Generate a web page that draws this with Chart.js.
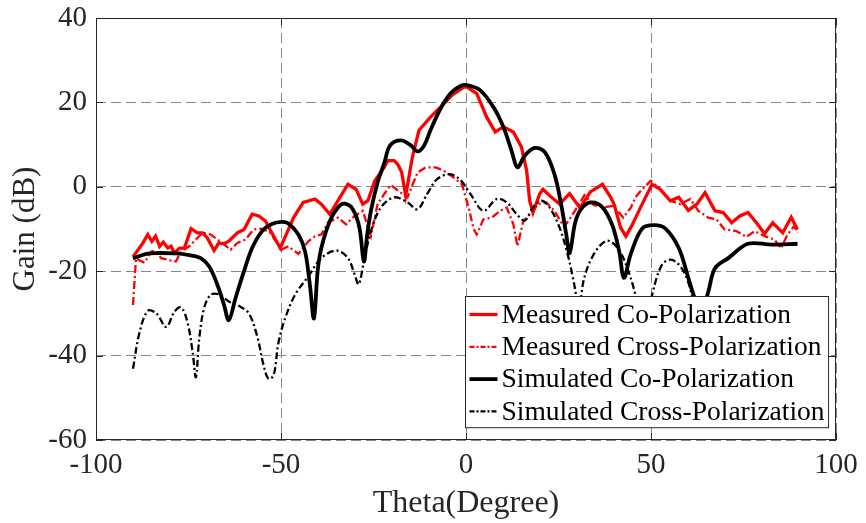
<!DOCTYPE html>
<html lang="en">
<head>
  <meta charset="UTF-8" />
  <title>Gain vs Theta</title>
  <script src="https://cdn.jsdelivr.net/npm/chart.js"></script>
  <style>
    html, body { margin: 0; padding: 0; background: #fff; }
  </style>
</head>
<body>
  <canvas id="gainChart" width="866" height="523"></canvas>

  <script>
    // values
    const measCoTheta = [-90, -87.3, -86, -84.9, -83.9, -82.8, -81.8, -80.6, -79.7, -78.8, -77.5, -76.1, -74.3, -72.6, -71.2, -69.9, -68.1, -66.8, -65.4, -64.1, -61.8, -60, -57.8, -56, -54.2, -52.5, -50.2, -48.4, -46.6, -44, -40.8, -39.1, -36.8, -34.6, -31.9, -29.7, -27.9, -26.5, -24.7, -22.1, -21.2, -19.4, -18.5, -17.4, -16.3, -14.5, -12.7, -9.6, -6.9, -3.8, -0.6, 0.2, 2.9, 5.6, 7.9, 10.1, 12.8, 15, 16.4, 17.2, 18.1, 19.9, 20.8, 23.1, 25.3, 28, 30.8, 33.6, 36.9, 39.1, 40, 41.8, 43.2, 45, 47.6, 50.3, 52.5, 55.2, 57.5, 60.1, 62.4, 64.6, 67.3, 69.5, 71.8, 74, 76.2, 78.5, 80.7, 82.9, 85.6, 87.9, 89.6];
    const measCoGain = [-16.6, -13.3, -11.3, -12.9, -11.7, -14.1, -13.1, -14.5, -14.1, -15.7, -14.6, -14.5, -9.9, -10.9, -10.9, -12.1, -15.1, -13.3, -13.5, -12.9, -10.9, -10.1, -6.5, -6.9, -8.1, -10.9, -14.5, -10.9, -7.3, -3.7, -2.9, -4.1, -6.5, -3.3, 0.6, -0.6, -4.1, -3.3, 1.4, 4.6, 6.2, 6.2, 5.4, 3.5, -2.1, 7, 13.4, 16.5, 18.9, 21.7, 23.6, 23.7, 22.1, 16.5, 13, 14.2, 13, 9.4, 3.8, -3.3, -6.1, -1.7, -0.6, -2.5, -4.1, -1.6, -5, -1.2, 0.6, -2.5, -4.1, -9.7, -11.7, -8.9, -4.1, 0.6, -0.6, -3.3, -2.5, -5.6, -4.1, -1.4, -5.7, -6.1, -8.5, -6.9, -6.1, -8.5, -11.1, -8.5, -10.9, -7.2, -10.1];

    const measXTheta = [-90, -89.2, -86.9, -85, -83.7, -82.4, -80.6, -78.4, -77, -74.8, -73, -71.2, -69, -65.9, -63.6, -61.8, -59.6, -57.4, -55.1, -52.9, -51.1, -49.9, -48, -45.3, -42.6, -40.8, -39.1, -37.3, -34.6, -32.4, -30.1, -27.9, -25.7, -23.9, -22.1, -20.3, -17.6, -15.8, -13.1, -10.9, -8.2, -6, -3.3, -1.1, 0.7, 2.1, 2.9, 4.7, 7, 9.2, 11, 12.8, 13.9, 15.5, 17.7, 19.5, 21.7, 23.9, 26.5, 28.5, 30, 32, 34.5, 37, 39.8, 42.5, 44.5, 45.8, 47.6, 49.9, 52.1, 55.2, 57.9, 60.6, 62.8, 65.5, 67.7, 69.9, 73.1, 75.8, 78, 80.7, 83.4, 85.1, 86.9, 88.7, 89.6];
    const measXGain = [-28, -17, -18, -15.3, -15.3, -16.9, -17.3, -17.7, -15.3, -14.1, -12.5, -10.9, -11.3, -13.3, -14.9, -13.3, -12.5, -10.1, -9.9, -10.9, -13.3, -14.9, -14.1, -15.9, -12.9, -11.7, -11.3, -8.5, -7.3, -8.9, -6.9, -5.7, -11.7, -4.1, -1.7, 0.4, -1.4, -2.5, 3.4, 4.6, 4.6, 3.8, 2.2, 0.6, -4.9, -10.1, -11.3, -7.7, -7.3, -5.7, -4.9, -8.9, -14.1, -8.1, -6.1, -4.1, -3.7, -5.7, -9.5, -7, -4.9, -2, -4.3, -4.9, -4.5, -7.3, -5, -2.5, -0.6, 1.4, -0.2, -3.3, -4.1, -2.9, -5.7, -7.3, -7.7, -10.1, -10.5, -11.9, -10.5, -11.7, -12.5, -14.6, -11.3, -9.3, -10.9];

    const simCoTheta = [-90, -86.4, -83.7, -78.4, -74.8, -71.7, -69.4, -67.2, -65.4, -64.1, -62.3, -60, -57.8, -55.1, -52.5, -49.8, -48, -45.3, -43.5, -42.2, -41.1, -40.1, -39.1, -36.8, -34.6, -32.8, -30.6, -28.8, -27.6, -26.7, -25.7, -23.9, -22.1, -20.5, -17.6, -14.9, -13.1, -11.3, -9.6, -6.9, -4.2, -1.5, 0.3, 3.8, 7.4, 10.1, 12.3, 13.9, 15.9, 18.6, 21.3, 23.9, 25.7, 27.1, 28, 29.5, 31.1, 33.6, 36.7, 39.5, 41.4, 42.7, 44.5, 47.6, 50.8, 53.9, 57.5, 60.1, 61.5, 63.5, 65.5, 67.3, 70.9, 76.2, 82.5, 89.6];
    const simCoGain = [-17, -15.9, -15.7, -15.8, -16.2, -16.9, -18.9, -23.2, -28, -31.6, -26.4, -20, -14.5, -10.5, -8.8, -8.3, -8.7, -11.3, -15.3, -23.2, -31.2, -20, -14.5, -8.1, -4.9, -4, -5.3, -9.7, -17.7, -11.3, -5.7, 1, 5.6, 9.8, 11, 9.8, 8.4, 9.8, 13.4, 18.5, 22.1, 23.9, 24.1, 22.9, 18.9, 14.2, 8.6, 4.6, 7.4, 9.2, 8.2, 3, -4.1, -11.3, -15.7, -8.5, -5.3, -3.7, -4.7, -9, -15.3, -21.6, -16, -9.9, -9.1, -9.9, -14.5, -21.6, -25.6, -30, -24.8, -19.3, -16.9, -13.5, -13.7, -13.5];

    const simXTheta = [-90, -88.2, -86, -83.7, -81, -78.8, -77, -75.3, -73.9, -73, -72.1, -70.8, -69, -66.8, -64.1, -61.4, -58.7, -56.5, -54.7, -53.4, -52, -50.7, -48.9, -46.2, -42.6, -39.1, -35, -31.9, -30.1, -29, -27.6, -25.7, -23, -19.4, -15.8, -13.1, -10.5, -7.8, -4.4, -1.5, 1.2, 4.7, 8.3, 11, 13.7, 15.9, 18.1, 20.4, 22.6, 25.3, 27.5, 28.9, 29.8, 30.6, 31.6, 34.2, 38, 41, 43.4, 45.8, 48, 50.3, 53, 55.7, 58.8, 61, 63, 67, 75, 82, 90];
    const simXGain = [-43.1, -34.4, -29.4, -30, -33.2, -29.6, -28.6, -32, -39.1, -45.1, -36, -28.8, -25.6, -25.5, -27.2, -28.2, -30, -35.2, -42.3, -45.5, -44.7, -37, -31.2, -25.6, -21.2, -16.9, -15.1, -16.9, -20.8, -23.1, -17.7, -10.5, -4.9, -2.5, -3.7, -5.3, -1.7, 1.8, 3, 1.6, -1.7, -5.7, -2.9, -3.7, -6.5, -8, -4.9, -3.3, -4.9, -9.7, -16.1, -21.6, -26, -32, -23, -16.5, -12.8, -14.5, -18.8, -25.6, -35, -25.6, -18.4, -17.3, -20, -25.6, -35, -32, -38, -33, -36];

    const seriesNames = ["Measured Co-Polarization", "Measured Cross-Polarization", "Simulated Co-Polarization", "Simulated Cross-Polarization"];
    const xTicks = [-100, -50, 0, 50, 100];
    const yTicks = [-60, -40, -20, 0, 20, 40];

    const serif = '"Liberation Serif", "Times New Roman", serif';
    const lineStyles = [
      { color: "#ff0000", width: 3.3, dash: [] },
      { color: "#ff0000", width: 2.3, dash: [8, 3, 2, 3] },
      { color: "#000000", width: 3.8, dash: [] },
      { color: "#000000", width: 2.3, dash: [7, 3, 2, 3] }
    ];

    function toPoints(xs, ys) {
      return xs.map((x, i) => ({ x, y: ys[i] }));
    }

    // frame, inward ticks and the boxed legend (like the matlab figure)
    const frameAndLegend = {
      id: "frameAndLegend",
      afterDatasetsDraw(chart) {
        const { ctx, chartArea: a, scales } = chart;
        ctx.save();
        ctx.strokeStyle = "#262626";
        ctx.lineWidth = 1;
        ctx.setLineDash([]);
        ctx.strokeRect(a.left + 0.5, a.top + 0.5, a.right - a.left - 1, a.bottom - a.top - 1);
        ctx.beginPath();
        xTicks.forEach(v => {
          const px = Math.round(scales.x.getPixelForValue(v)) + 0.5;
          ctx.moveTo(px, a.bottom); ctx.lineTo(px, a.bottom - 7);
          ctx.moveTo(px, a.top); ctx.lineTo(px, a.top + 7);
        });
        yTicks.forEach(v => {
          const py = Math.round(scales.y.getPixelForValue(v)) + 0.5;
          ctx.moveTo(a.left, py); ctx.lineTo(a.left + 7, py);
          ctx.moveTo(a.right, py); ctx.lineTo(a.right - 7, py);
        });
        ctx.stroke();

        // legend
        ctx.font = "27.5px " + serif;
        const rowH = 32.3;
        const textW = Math.max(...seriesNames.map(n => ctx.measureText(n).width));
        const boxW = 36 + textW + 4;
        const boxH = rowH * 4 + 2;
        const bx = Math.round(a.right - 8 - boxW) + 0.5;
        const by = Math.round(a.bottom - 13 - boxH) + 0.5;
        ctx.fillStyle = "#ffffff";
        ctx.fillRect(bx, by, boxW, boxH);
        ctx.strokeStyle = "#262626";
        ctx.strokeRect(bx, by, boxW, boxH);
        ctx.textBaseline = "middle";
        ctx.textAlign = "left";
        seriesNames.forEach((name, i) => {
          const cy = by + 18 + i * rowH;
          const st = lineStyles[i];
          ctx.beginPath();
          ctx.strokeStyle = st.color;
          ctx.lineWidth = st.width;
          ctx.setLineDash(st.dash.length ? [5, 2, 2, 2] : []);
          ctx.moveTo(bx + 4, cy);
          ctx.lineTo(bx + 32, cy);
          ctx.stroke();
          ctx.setLineDash([]);
          ctx.fillStyle = "#000";
          ctx.fillText(name, bx + 36, cy + 1);
        });
        ctx.restore();
      }
    };

    const datasets = [
      toPoints(measCoTheta, measCoGain),
      toPoints(measXTheta, measXGain),
      toPoints(simCoTheta, simCoGain),
      toPoints(simXTheta, simXGain)
    ].map((pts, i) => ({
      label: seriesNames[i],
      data: pts,
      borderColor: lineStyles[i].color,
      borderWidth: lineStyles[i].width,
      borderDash: lineStyles[i].dash,
      pointRadius: 0,
      fill: false,
      tension: i >= 2 ? 0.35 : 0,
      order: 3 - i
    }));

    new Chart(document.getElementById("gainChart"), {
      type: "line",
      data: { datasets },
      options: {
        responsive: false,
        animation: false,
        devicePixelRatio: 1,
        layout: { padding: { top: 18, right: 30, left: 0, bottom: 0 } },
        plugins: { legend: { display: false }, tooltip: { enabled: false } },
        scales: {
          x: {
            type: "linear",
            min: -100,
            max: 100,
            afterBuildTicks: s => { s.ticks = xTicks.map(v => ({ value: v })); },
            afterFit: s => { s.height = 83; s.paddingLeft = 0; s.paddingRight = 0; },
            ticks: { font: { family: serif, size: 29 }, color: "#262626", padding: 8, maxRotation: 0 },
            grid: { color: "#858585", lineWidth: 1, drawTicks: false },
            border: { display: false, dash: [10, 5] },
            title: { display: true, text: "Theta(Degree)", font: { family: serif, size: 32 }, color: "#262626", padding: { bottom: 0 } }
          },
          y: {
            min: -60,
            max: 40,
            afterBuildTicks: s => { s.ticks = yTicks.map(v => ({ value: v })); },
            afterFit: s => { s.width = 96; s.paddingTop = 0; s.paddingBottom = 0; },
            ticks: { font: { family: serif, size: 29 }, color: "#262626", padding: 9 },
            grid: { color: "#858585", lineWidth: 1, drawTicks: false },
            border: { display: false, dash: [10, 5] },
            title: { display: true, text: "Gain (dB)", font: { family: serif, size: 31 }, color: "#262626", padding: { top: 7 } }
          }
        }
      },
      plugins: [frameAndLegend]
    });
  </script>
</body>
</html>
